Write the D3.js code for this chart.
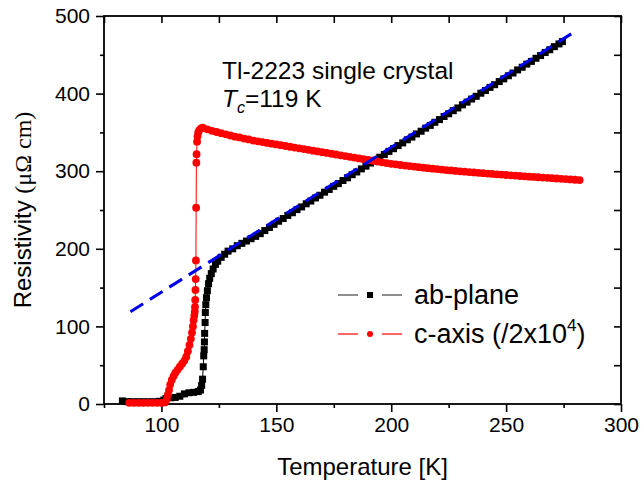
<!DOCTYPE html>
<html>
<head>
<meta charset="utf-8">
<script src="https://cdn.jsdelivr.net/npm/d3@7"></script>
<style>
  body { margin: 0; background: #fff; }
  svg text { font-family: "Liberation Sans", Arial, sans-serif; fill: #000; }
</style>
</head>
<body>
<div id="chart"></div>
<script>
// ab-plane resistivity (black squares)
const abTemp = [83, 85, 87, 90, 93, 96, 99, 101, 102, 104, 106, 108, 110, 112, 114, 116, 117, 117.5, 117.9, 118.2,
  118.4, 118.6, 118.7, 118.8, 119, 119.1, 119.3, 119.6, 120, 120.5, 121, 121.7, 122.5, 123.5, 124.5, 126, 127.5,
  129, 131, 133, 135, 137, 139, 141,
  143, 145, 147, 149, 151, 153, 155, 157, 159, 161, 163, 165, 167, 169, 171, 173, 175, 177, 179, 181, 183, 185,
  187, 189, 191, 193, 195, 197, 199, 201, 203, 205, 207, 209, 211, 213, 215, 217, 219, 221, 223, 225, 227, 229,
  231, 233, 235, 237, 239, 241, 243, 245, 247, 249, 251, 253, 255, 257, 259, 261, 263, 265, 267, 269, 271, 273, 274.5];
const abRho = [4, 3, 3, 3, 3, 3, 3.5, 5, 7, 8, 8.5, 10, 13, 14.5, 15, 16, 18, 24, 32, 48,
  62, 70, 80, 91, 105, 118, 128, 137, 146, 155, 162, 168, 174, 180, 184, 189, 193,
  197, 200, 204, 207, 210, 213, 216,
  219.5, 223.5, 227.5, 231.5, 235.5, 239, 243, 246.5, 250.5, 254, 258, 261.5, 265.5, 269, 273, 276.5, 280.5, 284, 288, 291.5, 295.5, 299,
  303, 306.5, 310.5, 314, 318, 321.5, 325.5, 329, 333, 336.5, 340.5, 344, 348, 351.5, 355.5, 359, 363, 366.5, 370.5, 374, 378, 381.5,
  385.5, 389, 393, 396.5, 400.5, 404, 408, 411.5, 415.5, 419, 423, 426.5, 430.5, 434, 438, 441.5, 445.5, 449, 453, 456.5, 460.5, 464, 467];

// c-axis resistivity divided by 2x10^4 (red circles)
const cTemp = [86, 88, 90, 92, 94, 96, 98, 100, 101.5, 102.3, 102.8, 103.3, 103.8, 104.5, 105.3, 106, 107, 108, 109, 110,
  110.8, 111.5, 112.2, 112.8, 113.3, 113.7, 114, 114.3, 114.5, 114.6, 114.7, 114.8, 114.9, 115, 115.1, 115.2, 115.3,
  115.5, 115.7, 116, 116.5, 117.2,
  118, 120, 122, 124, 126, 128, 130, 132, 134, 136, 138, 140, 142, 144, 146, 148, 150, 152, 154, 156, 158, 160,
  162, 164, 166, 168, 170, 172, 174, 176, 178, 180, 182, 184, 186, 188, 190, 192, 194, 196, 198, 200,
  202, 204, 206, 208, 210, 212, 214, 216, 218, 220, 222, 224, 226, 228, 230, 232, 234, 236, 238, 240,
  242, 244, 246, 248, 250, 252, 254, 256, 258, 260, 262, 264, 266, 268, 270, 272, 274, 276, 278, 280, 282];
const cRho = [1.5, 1.5, 1.5, 1.5, 1.5, 1.5, 1.5, 1.5, 2, 6, 12, 18, 25, 31, 36, 40, 44, 48, 52, 56,
  61, 68, 76, 84, 92, 100, 108, 114, 119, 125, 134, 147, 161, 185, 253, 311, 322,
  338, 345, 350, 353, 355,
  356, 354, 352, 350.5, 349, 347.5, 346, 344.5, 343.5, 342, 341, 339.5, 338.5, 337.5, 336.5, 335.5, 334.5, 333.5, 332.5, 331.5, 330.5, 329.5,
  328.5, 327.5, 326.5, 325.5, 324.5, 323.5, 322.5, 321.5, 320.5, 319.5, 318.5, 317.5, 316.5, 315.5, 314.5, 313.5, 312.5, 311.5, 310.5, 309.5,
  308.8, 308, 307.3, 306.6, 305.9, 305.2, 304.5, 303.9, 303.3, 302.7, 302.1, 301.5, 301, 300.4, 299.9, 299.4, 298.9, 298.4, 297.9, 297.4,
  297, 296.5, 296, 295.6, 295.1, 294.7, 294.3, 293.8, 293.4, 293, 292.6, 292.2, 291.8, 291.4, 291, 290.6, 290.2, 289.8, 289.4, 289, 288.6];

// linear fit (blue dashed)
const fitTemp = [86.5, 280.5];
const fitRho = [119, 481];

const xTicks = [100, 150, 200, 250, 300];
const xMinor = [75, 125, 175, 225, 275];
const yTicks = [0, 100, 200, 300, 400, 500];
const yMinor = [50, 150, 250, 350, 450];

const legendNames = ["ab-plane", "c-axis (/2x10"];

const W = 642, H = 486;
const margin = { top: 16, right: 21, bottom: 82, left: 104 };
const width = W - margin.left - margin.right,
  height = H - margin.top - margin.bottom;

const svg = d3.select("#chart").append("svg")
  .attr("width", W).attr("height", H);
const g = svg.append("g")
  .attr("transform", "translate(" + margin.left + "," + margin.top + ")");

const x = d3.scaleLinear().domain([75, 300]).range([0, width]);
const y = d3.scaleLinear().domain([0, 500]).range([height, 0]);

// axes: bottom/left ticks outward, top/right inward
function styleAxis(sel) {
  sel.selectAll(".domain").remove();
  sel.selectAll("line").attr("stroke", "#000").attr("stroke-width", 1.6);
  sel.selectAll("text").attr("font-size", 21);
}
g.append("g").attr("transform", "translate(0," + height + ")")
  .call(d3.axisBottom(x).tickValues(xTicks).tickSize(8).tickPadding(5).tickFormat(d3.format("d")))
  .call(styleAxis);
g.append("g").attr("transform", "translate(0," + height + ")")
  .call(d3.axisBottom(x).tickValues(xMinor).tickSize(4).tickFormat(""))
  .call(styleAxis);
g.append("g")
  .call(d3.axisLeft(y).tickValues(yTicks).tickSize(8).tickPadding(6).tickFormat(d3.format("d")))
  .call(styleAxis);
g.append("g")
  .call(d3.axisLeft(y).tickValues(yMinor).tickSize(4).tickFormat(""))
  .call(styleAxis);
g.append("g")
  .call(d3.axisTop(x).tickValues(xTicks.concat(xMinor)).tickSize(-7).tickFormat(""))
  .call(styleAxis);
g.append("g").attr("transform", "translate(" + width + ",0)")
  .call(d3.axisRight(y).tickValues(yTicks.concat(yMinor)).tickSize(-7).tickFormat(""))
  .call(styleAxis);

g.append("rect").attr("width", width).attr("height", height)
  .attr("fill", "none").attr("stroke", "#000").attr("stroke-width", 1.8);

const abData = abTemp.map(function (t, i) { return [t, abRho[i]]; });
const cData = cTemp.map(function (t, i) { return [t, cRho[i]]; });
const line = d3.line().x(function (d) { return x(d[0]); }).y(function (d) { return y(d[1]); });

// ab-plane
g.append("path").datum(abData).attr("d", line)
  .attr("fill", "none").attr("stroke", "#000").attr("stroke-width", 1);
g.append("g").selectAll("rect").data(abData).enter().append("rect")
  .attr("x", function (d) { return x(d[0]) - 3.5; })
  .attr("y", function (d) { return y(d[1]) - 3.5; })
  .attr("width", 7).attr("height", 7)
  .attr("fill", "#000");

// c-axis
g.append("path").datum(cData).attr("d", line)
  .attr("fill", "none").attr("stroke", "#f00").attr("stroke-width", 1);
g.append("g").selectAll("circle").data(cData).enter().append("circle")
  .attr("cx", function (d) { return x(d[0]); })
  .attr("cy", function (d) { return y(d[1]); })
  .attr("r", 3.9)
  .attr("fill", "#f00");

// fit line
g.append("line")
  .attr("x1", x(fitTemp[0])).attr("y1", y(fitRho[0]))
  .attr("x2", x(fitTemp[1])).attr("y2", y(fitRho[1]))
  .attr("stroke", "#0000ee").attr("stroke-width", 3)
  .attr("stroke-dasharray", "15,8");

// axis titles
svg.append("text")
  .attr("x", margin.left + width / 2).attr("y", 475)
  .attr("text-anchor", "middle").attr("font-size", 24)
  .text("Temperature [K]");

const yl = svg.append("text")
  .attr("text-anchor", "middle")
  .attr("transform", "translate(31," + (margin.top + height / 2) + ") rotate(-90)")
  .attr("font-size", 24);
yl.append("tspan").text("Resistivity ");
yl.append("tspan").style("font-family", "'Liberation Serif', 'Times New Roman', serif").text("(\u03bc\u03a9 cm)");

// annotation
svg.append("text").attr("x", 222).attr("y", 79).attr("font-size", 24.5)
  .text("Tl-2223 single crystal");
const tc = svg.append("text").attr("x", 222).attr("y", 107).attr("font-size", 24.5);
tc.append("tspan").attr("font-style", "italic").text("T");
tc.append("tspan").attr("font-style", "italic").attr("font-size", 16).attr("dy", 6).text("c");
tc.append("tspan").attr("dy", -6).text("=119 K");

// legend
const legY = [295, 334];
const legColors = ["#000", "#f00"];
legendNames.forEach(function (name, i) {
  const lg = svg.append("g");
  const lc = i === 0 ? "#444" : "#f00";
  lg.append("line").attr("x1", 338).attr("x2", 358).attr("y1", legY[i]).attr("y2", legY[i])
    .attr("stroke", lc).attr("stroke-width", 1.2);
  lg.append("line").attr("x1", 382).attr("x2", 402).attr("y1", legY[i]).attr("y2", legY[i])
    .attr("stroke", lc).attr("stroke-width", 1.2);
  if (i === 0) {
    lg.append("rect").attr("x", 367).attr("y", legY[i] - 3).attr("width", 6).attr("height", 6).attr("fill", "#000");
  } else {
    lg.append("circle").attr("cx", 370).attr("cy", legY[i]).attr("r", 3).attr("fill", legColors[i]);
  }
  const t = lg.append("text").attr("x", 414).attr("y", legY[i] + 9).attr("font-size", 27).text(name);
  if (i === 1) {
    t.append("tspan").attr("font-size", 17).attr("dy", -12).text("4");
    t.append("tspan").attr("dy", 12).text(")");
  }
});
</script>
</body>
</html>
